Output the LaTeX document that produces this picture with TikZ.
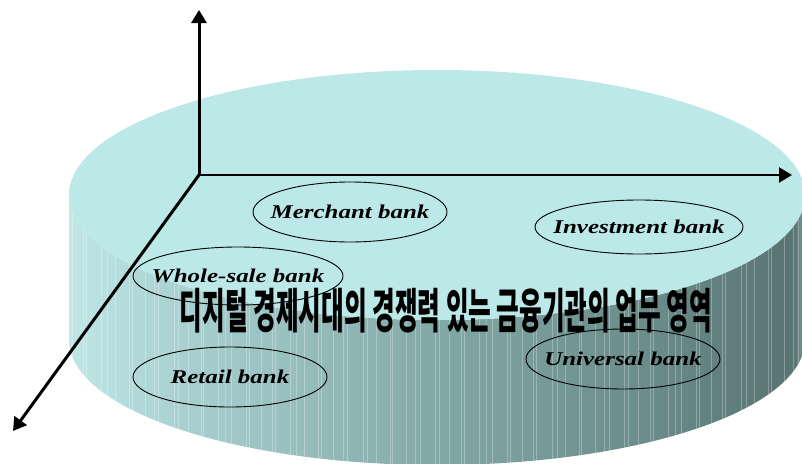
\documentclass[tikz,border=0pt]{standalone}
\usepackage{fontspec}
\setmainfont{Liberation Serif}
\newfontfamily\cjk{Noto Sans CJK KR}
\usetikzlibrary{shapes.geometric,arrows.meta}
\definecolor{topface}{RGB}{188,232,232}
\definecolor{sA}{RGB}{192,230,230}
\definecolor{sB}{RGB}{165,205,205}
\definecolor{sC}{RGB}{128,166,164}
\definecolor{sD}{RGB}{106,140,138}
\definecolor{sE}{RGB}{90,118,116}
\definecolor{sF}{RGB}{128,158,156}
\pgfdeclarehorizontalshading{sideshade}{100bp}{color(0bp)=(sA); color(25bp)=(sA); color(34bp)=(sB); color(51bp)=(sC); color(64.5bp)=(sD); color(73.3bp)=(sE); color(74.3bp)=(sE); color(75bp)=(sF); color(100bp)=(sF)}
\newcommand{\banklabel}[1]{\makebox[0pt]{\raisebox{-6.5pt}[0pt][0pt]{\scalebox{1.28}[1]{#1}}}}
\tikzset{
  bank/.style={ellipse, draw=black, line width=0.9pt, inner sep=0pt,
    font=\fontsize{19.5}{22}\selectfont\bfseries\itshape},
  axisline/.style={line width=3pt, -{Triangle[length=13pt,width=15pt]}},
  stripe/.style={white, opacity=0.28, line width=0.6pt}
}
\begin{document}
\begin{tikzpicture}[x=1pt,y=-1pt]
\useasboundingbox (0,0) rectangle (802,463);
% side of the cylinder
\def\sidepath{(69,340) arc[start angle=180, end angle=0, x radius=368, y radius=125] -- (805,195) arc[start angle=0, end angle=180, x radius=368, y radius=125] -- cycle}
\shade[shading=sideshade] \sidepath;
\begin{scope}
  \clip \sidepath;
  \foreach \i in {0,...,82} {
    \pgfmathsetmacro\xx{72+9*\i+3.5*sin(137*\i)}
    \draw[stripe] (\xx,150) -- (\xx,470);
  }
\end{scope}
% top face
\fill[topface] (437,195) ellipse[x radius=368, y radius=125];
% axes
\coordinate (O) at (199,175);
\coordinate (Yt) at (199,10);
\coordinate (Xt) at (792,175);
\coordinate (Zt) at (13,431);
\draw[axisline] (O) -- (Yt);
\draw[axisline, line width=2.4pt] (O) -- (Xt);
\draw[axisline] (O) -- (Zt);
% bank ellipses
\node[bank, minimum width=194pt, minimum height=60pt] (merchant) at (350,212) {\banklabel{Merchant bank}};
\node[bank, minimum width=208pt, minimum height=54pt] (invest) at (639,227) {\banklabel{Investment bank}};
\node[bank, minimum width=210pt, minimum height=58pt] (whole) at (238,276) {\banklabel{Whole-sale bank}};
\node[bank, minimum width=194pt, minimum height=60pt] (retail) at (230,377) {\banklabel{Retail bank}};
\node[bank, minimum width=194pt, minimum height=60pt] (universal) at (623,359) {\banklabel{Universal bank}};
% title
\node[inner sep=0pt] (title) at (446,311) {\resizebox*{532pt}{45pt}{\cjk\bfseries 디지털 경제시대의 경쟁력 있는 금융기관의 업무 영역}};
\end{tikzpicture}
\end{document}
